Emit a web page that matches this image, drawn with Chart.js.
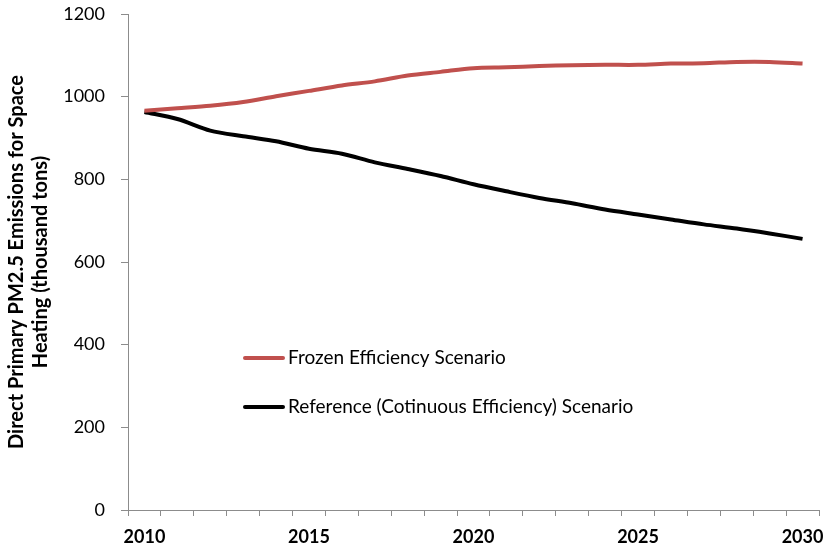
<!DOCTYPE html>
<html>
<head>
<meta charset="utf-8">
<script src="https://cdn.jsdelivr.net/npm/chart.js@4/dist/chart.umd.min.js"></script>
<style>
  html, body { margin: 0; padding: 0; background: #fff; }
  #wrap { width: 824px; height: 552px; position: relative; }
</style>
</head>
<body>
<div id="wrap"><canvas id="chart"></canvas></div>
<script>
// Данные графика
const years = [2010, 2011, 2012, 2013, 2014, 2015, 2016, 2017, 2018, 2019, 2020,
               2021, 2022, 2023, 2024, 2025, 2026, 2027, 2028, 2029, 2030];
const frozenValues = [966, 972, 978, 987, 1001, 1014, 1027, 1037, 1051, 1060, 1069,
                      1071, 1074, 1076, 1077, 1077, 1080, 1081, 1084, 1084, 1080];
const referenceValues = [963, 946, 918, 904, 892, 874, 862, 841, 825, 808, 788,
                         771, 755, 742, 727, 715, 703, 691, 681, 669, 656];
const seriesNames = ['Frozen Efficiency Scenario', 'Reference (Cotinuous Efficiency) Scenario'];
const yTitle = ['Direct Primary PM2.5 Emissions for Space', 'Heating (thousand tons)'];

const axisColor = '#8c8c8c';
const fontFamily = 'Lato, "Open Sans", sans-serif';

// Легенда внутри области графика
const innerLegend = {
    id: 'innerLegend',
    afterDatasetsDraw(chart) {
        const ctx = chart.ctx;
        const x0 = 245;
        const rows = [358, 407];
        ctx.save();
        chart.data.datasets.forEach((ds, i) => {
            const y = rows[i];
            ctx.strokeStyle = ds.borderColor;
            ctx.lineWidth = 4;
            ctx.lineCap = 'round';
            ctx.beginPath();
            ctx.moveTo(x0, y);
            ctx.lineTo(x0 + 38, y);
            ctx.stroke();
            ctx.fillStyle = '#000';
            ctx.font = '19px ' + fontFamily;
            ctx.textBaseline = 'middle';
            ctx.fillText(ds.label, x0 + 43, y);
        });
        ctx.restore();
    }
};

new Chart(document.getElementById('chart').getContext('2d'), {
    type: 'line',
    data: {
        labels: years,
        datasets: [{
            label: seriesNames[0],
            data: frozenValues,
            borderColor: '#C0504D',
            borderWidth: 4,
            pointRadius: 0,
            tension: 0.3
        }, {
            label: seriesNames[1],
            data: referenceValues,
            borderColor: '#000000',
            borderWidth: 4,
            pointRadius: 0,
            tension: 0.3
        }]
    },
    options: {
        responsive: true,
        maintainAspectRatio: false,
        animation: false,
        layout: { padding: { top: 14, right: 5, bottom: 0, left: 4 } },
        plugins: {
            legend: { display: false },
            tooltip: { enabled: false }
        },
        scales: {
            x: {
                type: 'category',
                offset: true,
                grid: {
                    offset: true,
                    drawOnChartArea: false,
                    drawTicks: true,
                    tickLength: 6,
                    color: axisColor
                },
                border: { color: axisColor, width: 1 },
                ticks: {
                    autoSkip: false,
                    maxRotation: 0,
                    color: '#000',
                    padding: 10,
                    font: { family: fontFamily, size: 18, weight: 'bold' },
                    callback: (val, idx) => (idx % 5 === 0 ? years[idx] : '')
                },
                afterFit: (scale) => {
                    scale.height = 42;
                    scale.paddingLeft = 0;
                    scale.paddingRight = 0;
                }
            },
            y: {
                min: 0,
                max: 1200,
                grid: {
                    drawOnChartArea: false,
                    tickLength: 7,
                    color: axisColor
                },
                border: { color: axisColor, width: 1 },
                ticks: {
                    stepSize: 200,
                    color: '#000',
                    padding: 16,
                    font: { family: fontFamily, size: 18 },
                    callback: (v) => String(v)
                },
                title: {
                    display: true,
                    text: yTitle,
                    color: '#000',
                    padding: { top: 1, bottom: 0 },
                    font: { family: fontFamily, size: 20, weight: 'bold', lineHeight: 1.17 }
                },
                afterFit: (scale) => {
                    scale.width = 124;
                    scale.paddingTop = 0;
                    scale.paddingBottom = 0;
                }
            }
        }
    },
    plugins: [innerLegend]
});
</script>
</body>
</html>
